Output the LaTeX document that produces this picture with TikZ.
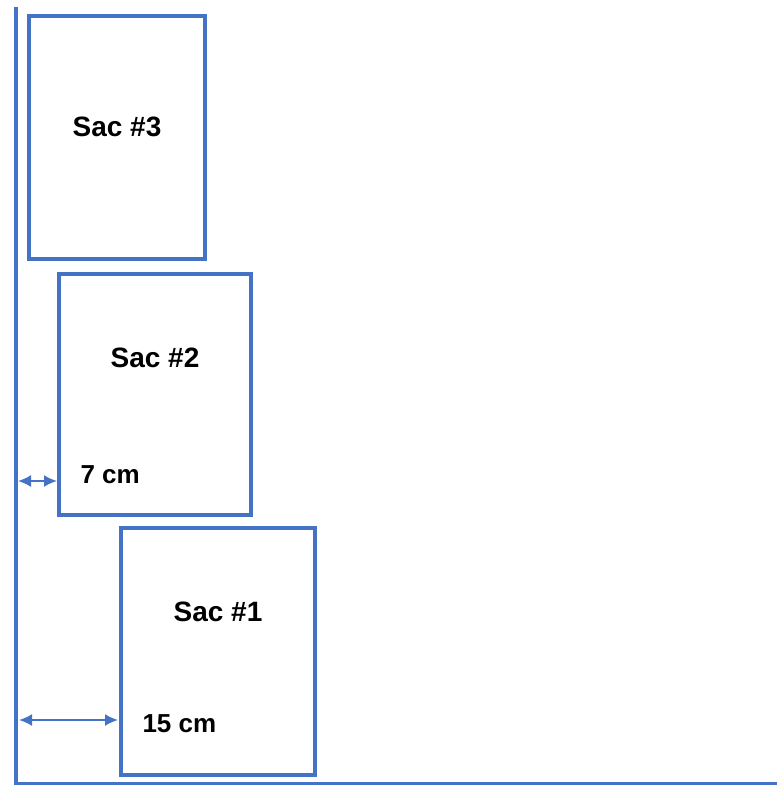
\documentclass[tikz,border=0pt]{standalone}
\usepackage{fontspec}
\setmainfont{Liberation Sans}
\usetikzlibrary{arrows.meta}
\definecolor{sacblue}{HTML}{4472C4}
\tikzset{
  sacbox/.style={draw=sacblue, line width=4.5pt, inner sep=0pt, outer sep=0pt, anchor=north west},
  saclabel/.style={font=\fontsize{28}{32}\selectfont\bfseries, text=black},
  dimlabel/.style={font=\fontsize{26}{30}\selectfont\bfseries, text=black},
  dimarrow/.style={draw=sacblue, line width=2pt, {Latex[length=13pt,width=12pt]}-{Latex[length=13pt,width=12pt]}},
  axisline/.style={draw=sacblue, line width=3.5pt}
}
\begin{document}
\begin{tikzpicture}[x=1pt,y=-1pt]
\useasboundingbox (0,0) rectangle (777,786);
% wall and floor
\coordinate (wtop) at (16,7);
\coordinate (corner) at (16,785);
\coordinate (fend) at (777,783.5);
\draw[axisline] (wtop) -- (corner);
\draw[sacblue, line width=2.5pt] (16,783.5) -- (fend);
% three stacked bags
\node[sacbox, minimum width=176pt, minimum height=243pt] (s3) at (29,16) {};
\node[sacbox, minimum width=192pt, minimum height=241pt] (s2) at (59,274) {};
\node[sacbox, minimum width=194pt, minimum height=247pt] (s1) at (121,528) {};
\node[saclabel] (l3) at (117,127) {Sac \#3};
\node[saclabel] (l2) at (155,358) {Sac \#2};
\node[saclabel] (l1) at (218,612) {Sac \#1};
% offsets from the wall
\coordinate (a2) at (18,481);
\coordinate (a1) at (19,720);
\draw[dimarrow] (a2) -- ([xshift=-2pt]a2 -| s2.west);
\draw[dimarrow] (a1) -- ([xshift=-3pt]a1 -| s1.west);
\node[dimlabel, anchor=west] (d2) at (77,475) {7 cm};
\node[dimlabel, anchor=west] (d1) at (139,724) {15 cm};
\end{tikzpicture}
\end{document}
